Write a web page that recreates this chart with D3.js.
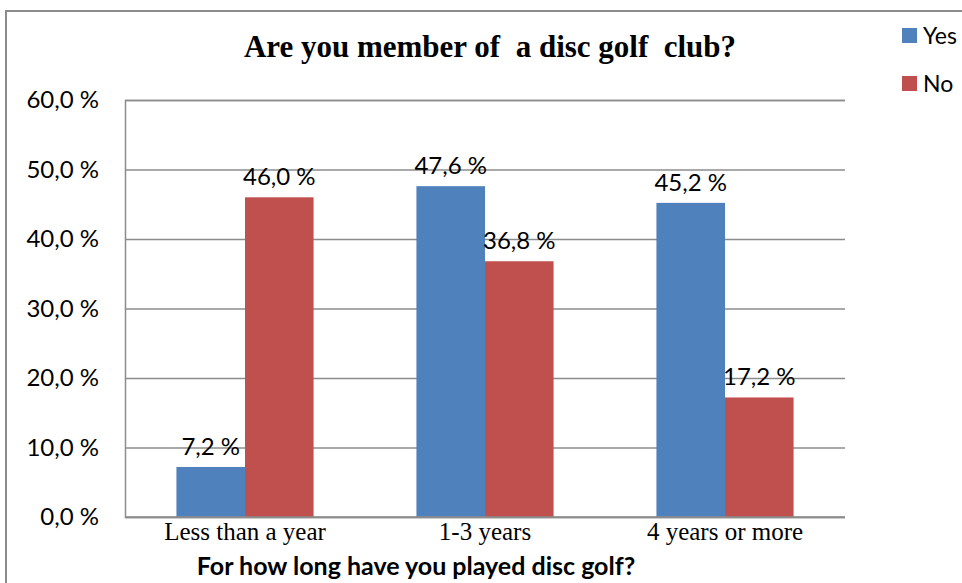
<!DOCTYPE html>
<html>
<head>
<meta charset="utf-8">
<script src="https://cdn.jsdelivr.net/npm/d3@7/dist/d3.min.js"></script>
<style>
  html, body { margin: 0; padding: 0; background: #fff; }
  svg { display: block; }
</style>
</head>
<body>
<svg id="chart" width="962" height="583"></svg>
<script>
// Membership in a disc golf club by years played
const categories = ["Less than a year", "1-3 years", "4 years or more"];
const seriesNames = ["Yes", "No"];
const yesValues = [7.2, 47.6, 45.2];
const noValues = [46.0, 36.8, 17.2];
const yTicks = [0, 10, 20, 30, 40, 50, 60];

const colors = { Yes: "#4F81BD", No: "#C0504D" };
const fmt = v => d3.format(".1f")(v).replace(".", ",") + " %";
const sans = "Lato, 'Noto Sans', sans-serif";
const serif = "'Liberation Serif', 'DejaVu Serif', serif";

const svg = d3.select("#chart");
const W = 962, H = 583;
const plot = { left: 125, right: 845, top: 100, bottom: 517 };

// outer chart frame (runs off the right and bottom edges)
svg.append("rect")
  .attr("x", 6).attr("y", 11)
  .attr("width", W + 20).attr("height", H + 20)
  .attr("fill", "none").attr("stroke", "#8c8c8c").attr("stroke-width", 2);

const x0 = d3.scaleBand().domain(categories).range([plot.left, plot.right]).paddingInner(0).paddingOuter(0);
const x1 = d3.scaleBand().domain(seriesNames).range([0, x0.bandwidth()]).paddingInner(0).paddingOuter(0.75);
const y = d3.scaleLinear().domain([0, 60]).range([plot.bottom, plot.top]);

// horizontal gridlines + value axis
const yAxis = d3.axisLeft(y).tickValues(yTicks).tickSize(-(plot.right - plot.left)).tickFormat(fmt).tickPadding(26);
const yg = svg.append("g").attr("transform", `translate(${plot.left},0)`).call(yAxis);
yg.select(".domain").attr("stroke", "#8c8c8c").attr("stroke-width", 1.5);
yg.selectAll(".tick line").attr("stroke", "#8c8c8c").attr("stroke-width", 1.5);
yg.selectAll(".tick text")
  .attr("font-family", sans)
  .attr("font-size", 24).attr("fill", "#000");

// bars
const rows = categories.map((c, i) => ({ cat: c, values: [
  { key: "Yes", value: yesValues[i] }, { key: "No", value: noValues[i] } ] }));

const groups = svg.append("g").selectAll("g").data(rows).join("g")
  .attr("transform", d => `translate(${x0(d.cat)},0)`);

groups.selectAll("rect").data(d => d.values).join("rect")
  .attr("x", d => x1(d.key))
  .attr("y", d => y(d.value))
  .attr("width", x1.bandwidth())
  .attr("height", d => y(0) - y(d.value))
  .attr("fill", d => colors[d.key]);

groups.selectAll("text").data(d => d.values).join("text")
  .attr("x", d => x1(d.key) + x1.bandwidth() / 2)
  .attr("y", d => y(d.value) - 12)
  .attr("text-anchor", "middle")
  .attr("font-family", sans)
  .attr("font-size", 24).attr("fill", "#000")
  .text(d => fmt(d.value));

// category axis baseline
svg.append("line")
  .attr("x1", plot.left).attr("x2", plot.right)
  .attr("y1", y(0)).attr("y2", y(0))
  .attr("stroke", "#8c8c8c").attr("stroke-width", 1.5);

// category labels
svg.append("g").selectAll("text").data(categories).join("text")
  .attr("x", d => x0(d) + x0.bandwidth() / 2)
  .attr("y", plot.bottom + 23)
  .attr("text-anchor", "middle")
  .attr("font-family", serif)
  .attr("font-size", 25).attr("fill", "#000")
  .text(d => d);

// axis title
svg.append("text")
  .attr("x", 416).attr("y", 575)
  .attr("text-anchor", "middle")
  .attr("font-family", sans)
  .attr("font-weight", "bold")
  .attr("font-size", 25).attr("fill", "#000")
  .text("For how long have you played disc golf?");

// chart title
svg.append("text")
  .attr("x", 490).attr("y", 57)
  .attr("text-anchor", "middle")
  .attr("font-family", serif)
  .attr("font-weight", "bold")
  .attr("font-size", 31).attr("fill", "#000")
  .style("white-space", "pre")
  .text("Are you member of  a disc golf  club?");

// legend
const legend = svg.append("g").selectAll("g").data(seriesNames).join("g")
  .attr("transform", (d, i) => `translate(902,${28 + i * 48})`);
legend.append("rect").attr("width", 15).attr("height", 15).attr("fill", d => colors[d]);
legend.append("text")
  .attr("x", 21).attr("y", 16)
  .attr("font-family", sans)
  .attr("font-size", 23).attr("fill", "#000")
  .text(d => d);
</script>
</body>
</html>
